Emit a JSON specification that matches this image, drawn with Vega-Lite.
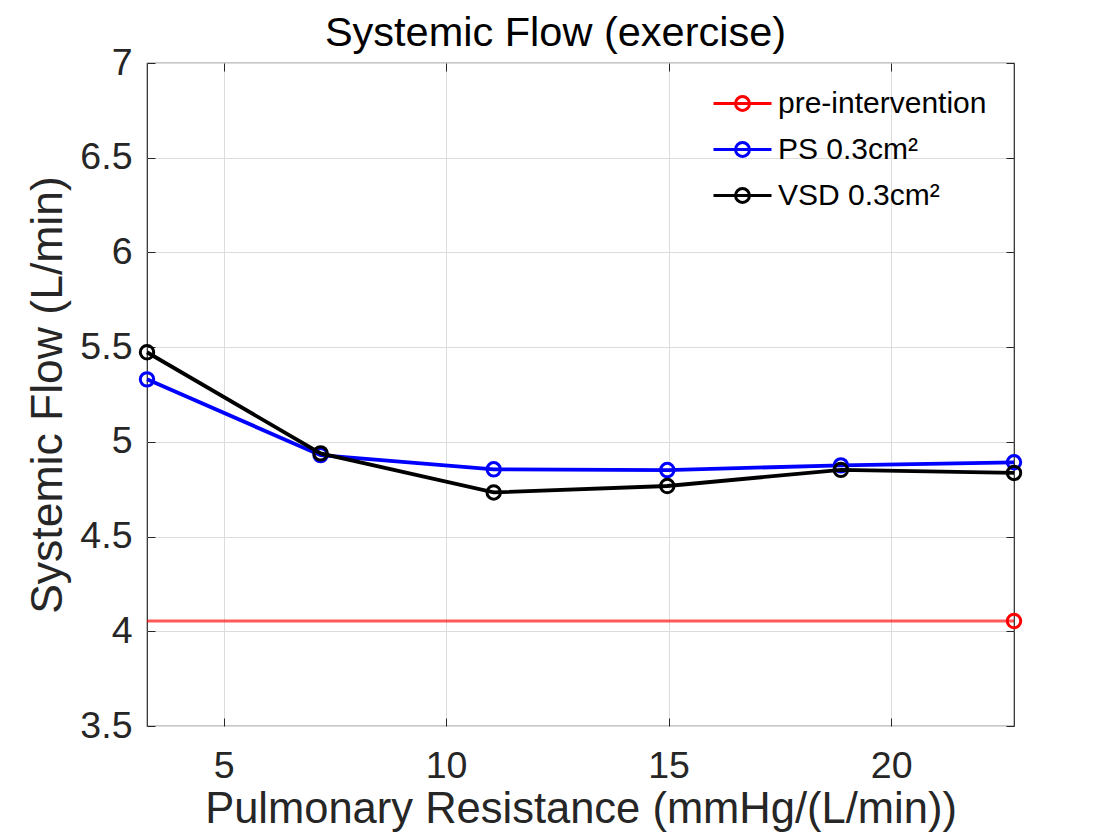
{
  "$schema": "https://vega.github.io/schema/vega-lite/v6.json",
  "autosize": "none",
  "width": 867,
  "height": 663,
  "padding": {"left": 147, "top": 63, "right": 106, "bottom": 114},
  "background": "white",
  "title": {
    "text": "Systemic Flow (exercise)",
    "font": "Liberation Sans",
    "fontSize": 41.5,
    "fontWeight": "normal",
    "color": "#000000",
    "anchor": "middle",
    "dx": -25,
    "offset": -10
  },
  "config": {
    "font": "Liberation Sans",
    "view": {"stroke": "#262626", "strokeWidth": 1.2},
    "axis": {
      "domain": false,
      "labelFont": "Liberation Sans",
      "labelFontSize": 37.5,
      "labelColor": "#262626",
      "titleFont": "Liberation Sans",
      "titleFontSize": 43.5,
      "titleFontWeight": "normal",
      "titleColor": "#262626",
      "tickColor": "#262626",
      "tickWidth": 1,
      "gridColor": "#dcdcdc",
      "gridWidth": 1
    }
  },
  "datasets": {
    "curves": [
      {"series": "PS 0.3cm²", "resistance": 3.28, "flow": 5.33},
      {"series": "PS 0.3cm²", "resistance": 7.18, "flow": 4.93},
      {"series": "PS 0.3cm²", "resistance": 11.07, "flow": 4.855},
      {"series": "PS 0.3cm²", "resistance": 14.97, "flow": 4.851},
      {"series": "PS 0.3cm²", "resistance": 18.87, "flow": 4.876},
      {"series": "PS 0.3cm²", "resistance": 22.76, "flow": 4.892},
      {"series": "VSD 0.3cm²", "resistance": 3.28, "flow": 5.473},
      {"series": "VSD 0.3cm²", "resistance": 7.18, "flow": 4.939},
      {"series": "VSD 0.3cm²", "resistance": 11.07, "flow": 4.733},
      {"series": "VSD 0.3cm²", "resistance": 14.97, "flow": 4.767},
      {"series": "VSD 0.3cm²", "resistance": 18.87, "flow": 4.852},
      {"series": "VSD 0.3cm²", "resistance": 22.76, "flow": 4.836}
    ],
    "pre": [
      {"series": "pre-intervention", "resistance": 22.76, "flow": 4.054}
    ]
  },
  "resolve": {"axis": {"x": "independent", "y": "independent"}},
  "layer": [
    {
      "data": {"name": "pre"},
      "mark": {"type": "rule", "strokeWidth": 3, "opacity": 0.65},
      "encoding": {
        "y": {"field": "flow", "type": "quantitative",
              "scale": {"domain": [3.5, 7], "nice": false, "zero": false},
              "axis": {"orient": "left", "values": [3.5, 4, 4.5, 5, 5.5, 6, 6.5, 7], "format": "~g",
                       "title": "Systemic Flow (L/min)", "titleFontSize": 44.5, "grid": true, "tickSize": -8,
                       "labelPadding": 23, "titlePadding": 9}},
        "color": {"field": "series", "type": "nominal",
                  "scale": {"domain": ["pre-intervention", "PS 0.3cm²", "VSD 0.3cm²"], "range": ["#ff0000", "#0000ff", "#000000"]},
                  "legend": {
                    "orient": "none",
                    "legendX": 565,
                    "legendY": 10,
                    "title": null,
                    "padding": 0,
                    "symbolType": "M-1,0L1,0M-0.24,0A0.24,0.24,0,1,1,0.24,0A0.24,0.24,0,1,1,-0.24,0",
                    "symbolSize": 3364,
                    "symbolStrokeWidth": 3,
                    "symbolOpacity": 1,
                    "symbolFillColor": "transparent",
                    "labelFont": "Liberation Sans",
                    "labelFontSize": 30,
                    "labelColor": "#000000",
                    "labelLimit": 500,
                    "labelOffset": 5,
                    "rowPadding": -5
                  }}
      }
    },
    {
      "data": {"name": "curves"},
      "transform": [{"filter": "datum.series === 'PS 0.3cm²'"}],
      "mark": {"type": "line", "strokeWidth": 3.8},
      "encoding": {
        "x": {"field": "resistance", "type": "quantitative",
              "scale": {"domain": [3.28, 22.76], "nice": false, "zero": false},
              "axis": {"orient": "bottom", "values": [5, 10, 15, 20], "title": "Pulmonary Resistance (mmHg/(L/min))",
                       "grid": true, "tickSize": -8, "labelPadding": 29, "titlePadding": 4}},
        "y": {"field": "flow", "type": "quantitative", "axis": null},
        "color": {"field": "series", "type": "nominal"}
      }
    },
    {
      "data": {"name": "curves"},
      "transform": [{"filter": "datum.series === 'PS 0.3cm²'"}],
      "mark": {"type": "point", "filled": false, "size": 180, "strokeWidth": 3, "opacity": 1},
      "encoding": {
        "x": {"field": "resistance", "type": "quantitative",
              "axis": {"orient": "top", "values": [5, 10, 15, 20], "labels": false, "title": null, "grid": false, "tickSize": -8}},
        "y": {"field": "flow", "type": "quantitative",
              "axis": {"orient": "right", "values": [3.5, 4, 4.5, 5, 5.5, 6, 6.5, 7], "labels": false, "title": null, "grid": false, "tickSize": -8}},
        "color": {"field": "series", "type": "nominal"}
      }
    },
    {
      "data": {"name": "curves"},
      "transform": [{"filter": "datum.series === 'VSD 0.3cm²'"}],
      "mark": {"type": "line", "strokeWidth": 3.8},
      "encoding": {
        "x": {"field": "resistance", "type": "quantitative", "axis": null},
        "y": {"field": "flow", "type": "quantitative", "axis": null},
        "color": {"field": "series", "type": "nominal"}
      }
    },
    {
      "data": {"name": "curves"},
      "transform": [{"filter": "datum.series === 'VSD 0.3cm²'"}],
      "mark": {"type": "point", "filled": false, "size": 180, "strokeWidth": 3, "opacity": 1},
      "encoding": {
        "x": {"field": "resistance", "type": "quantitative", "axis": null},
        "y": {"field": "flow", "type": "quantitative", "axis": null},
        "color": {"field": "series", "type": "nominal"}
      }
    },
    {
      "data": {"name": "pre"},
      "mark": {"type": "point", "filled": false, "size": 180, "strokeWidth": 3, "opacity": 1},
      "encoding": {
        "x": {"field": "resistance", "type": "quantitative", "axis": null},
        "y": {"field": "flow", "type": "quantitative", "axis": null},
        "color": {"field": "series", "type": "nominal"}
      }
    }
  ]
}
